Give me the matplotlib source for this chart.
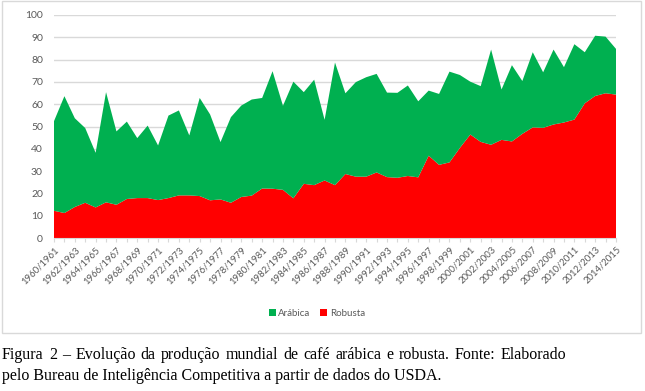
import numpy as np
import matplotlib.pyplot as plt
from matplotlib.patches import Rectangle

# seasons 1960/1961 .. 2014/2015
years = list(range(1960, 2015))
labels = [f"{y}/{y + 1}" for y in years]

# million bags
robusta = [12.2, 11.2, 13.9, 15.8, 13.7, 16.0, 14.9, 17.5, 17.9, 17.9,
           17.0, 17.9, 19.1, 19.1, 18.8, 16.9, 17.3, 15.8, 18.4, 19.0,
           22.2, 22.1, 21.6, 17.8, 24.3, 23.7, 25.8, 23.7, 28.7, 27.5,
           27.5, 29.4, 27.3, 27.0, 27.8, 27.2, 36.9, 32.8, 33.9, 40.4,
           46.4, 43.1, 41.8, 44.0, 43.3, 46.7, 49.6, 49.4, 50.9, 51.8,
           53.1, 60.4, 63.7, 64.9, 64.3]
total = [52.4, 63.6, 53.7, 49.3, 38.2, 65.4, 47.8, 52.2, 44.8, 50.4,
         41.5, 54.9, 57.2, 46.0, 62.8, 55.4, 43.0, 54.2, 59.4, 62.1,
         62.8, 74.8, 59.3, 70.1, 65.4, 71.0, 53.0, 78.7, 64.9, 69.9,
         72.1, 73.6, 65.2, 65.1, 68.4, 61.3, 66.1, 64.6, 74.6, 73.1,
         70.1, 68.1, 84.5, 66.6, 77.5, 70.4, 83.3, 74.3, 84.5, 76.6,
         86.9, 83.3, 90.7, 90.3, 84.8]
arabica = [t - r for t, r in zip(total, robusta)]

caption1 = "Figura 2 – Evolução da produção mundial de café arábica e robusta. Fonte: Elaborado"
caption2 = "pelo Bureau de Inteligência Competitiva a partir de dados do USDA."

GREEN = "#00B050"
RED = "#FF0000"
GRID = "#d9d9d9"
TXT = "#595959"

plt.rcParams['font.family'] = ['Lato', 'DejaVu Sans']

fig = plt.figure(figsize=(6.45, 3.91), dpi=100)
ax = fig.add_axes([54 / 645, 1 - 238 / 391, (616 - 54) / 645, (238 - 15) / 391])

x = np.arange(len(years))
ax.stackplot(x, robusta, arabica, colors=[RED, GREEN], labels=["Robusta", "Arábica"],
             linewidth=0)

ax.set_xlim(0, len(years) - 1)
ax.set_ylim(0, 100)
ax.set_yticks(range(0, 101, 10))
ax.yaxis.grid(True, color=GRID, linewidth=1)
ax.set_axisbelow(True)
for s in ["top", "right", "left"]:
    ax.spines[s].set_visible(False)
ax.spines["bottom"].set_color(GRID)
ax.tick_params(axis="y", length=0, labelsize=7.5, labelcolor=TXT, pad=8)

ax.set_xticks(x)
ax.set_xticklabels([l if i % 2 == 0 else "" for i, l in enumerate(labels)],
                   rotation=45, ha="right", rotation_mode="anchor")
ax.tick_params(axis="x", length=3, color=GRID, labelsize=6.8, labelcolor=TXT, pad=2)

# legend: Arábica first
h, l = ax.get_legend_handles_labels()
fig.legend(h[::-1], l[::-1], loc="center", bbox_to_anchor=(317 / 645, 1 - 313 / 391),
           ncol=2, frameon=False, fontsize=7, labelcolor=TXT,
           handlelength=0.7, handleheight=0.7, handletextpad=0.3, columnspacing=1.0)

# chart border
fig.patches.append(Rectangle((2 / 645, 1 - 333 / 391), 639 / 645, 332 / 391,
                             transform=fig.transFigure, fill=False,
                             edgecolor=GRID, linewidth=1))

cap = dict(family="Liberation Serif", fontsize=11.5, color="black", ha="left", va="center")

# first caption line is justified: spread words between x=2 and x=566 px
renderer = fig.canvas.get_renderer()
words = caption1.split(" ")
items = [fig.text(0, 1 - 355 / 391, w, **cap) for w in words]
widths = [t.get_window_extent(renderer).width for t in items]
gap = (564 - sum(widths)) / (len(words) - 1)
pos = 2
for t, w in zip(items, widths):
    t.set_x(pos / 645)
    pos += w + gap

fig.text(2 / 645, 1 - 376 / 391, caption2, **cap)

fig.savefig("out.png", dpi=100)
